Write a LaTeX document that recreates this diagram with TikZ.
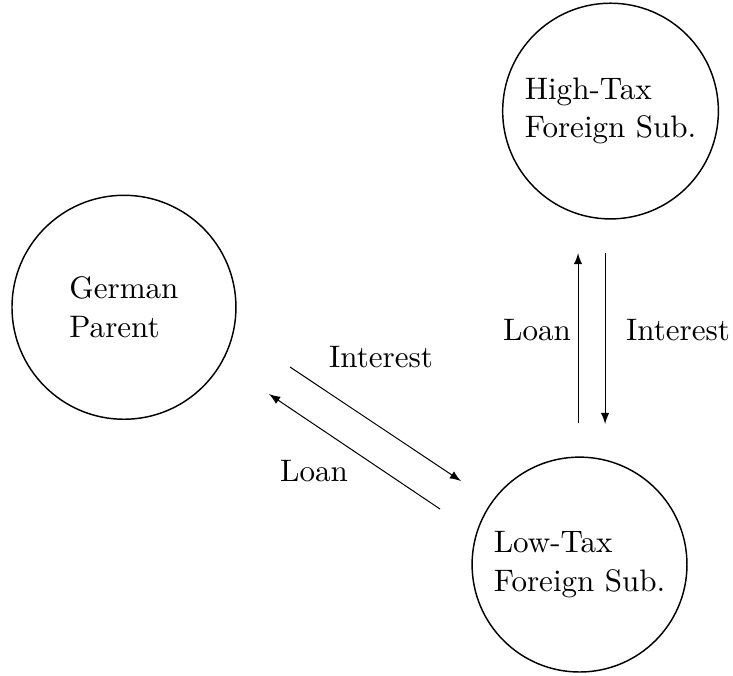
\documentclass[tikz,border=0pt]{standalone}
\usetikzlibrary{positioning}

\tikzset{
  every node/.style={font=\fontsize{10.7pt}{13.2pt}\selectfont},
  firm/.style={draw, circle, align=left, inner sep=0pt, line width=0.5pt},
  flow/.style={-latex, line width=0.35pt}
}

\begin{document}
\begin{tikzpicture}
\useasboundingbox (0,0) rectangle (8.869,8.168);

\node[firm, minimum size=2.71cm] (parent) at (1.50,4.45) {German\\Parent};
\node[firm, minimum size=2.61cm] (high) at (7.387,6.824) {High-Tax\\Foreign Sub.};
\node[firm, minimum size=2.60cm] (low) at (7.012,1.337) {Low-Tax\\Foreign Sub.};

% ends of the flows between the firms
\coordinate (loanA) at (5.324,2.009);
\coordinate (loanB) at (3.255,3.400);
\coordinate (intA) at (3.509,3.727);
\coordinate (intB) at (5.578,2.347);
\coordinate (loanC) at (6.994,3.049);
\coordinate (loanD) at (6.994,5.106);
\coordinate (intC) at (7.321,5.106);
\coordinate (intD) at (7.321,3.037);

\draw[flow] (loanA) -- (loanB);
\draw[flow] (intA) -- (intB);
\draw[flow] (loanC) -- (loanD);
\draw[flow] (intC) -- (intD);

\node (intlabA) at (4.610,3.848) {Interest};
\node (loanlabA) at (3.799,2.468) {Loan};
\node (loanlabB) at (6.498,4.175) {Loan};
\node (intlabB) at (8.204,4.175) {Interest};
\end{tikzpicture}
\end{document}
